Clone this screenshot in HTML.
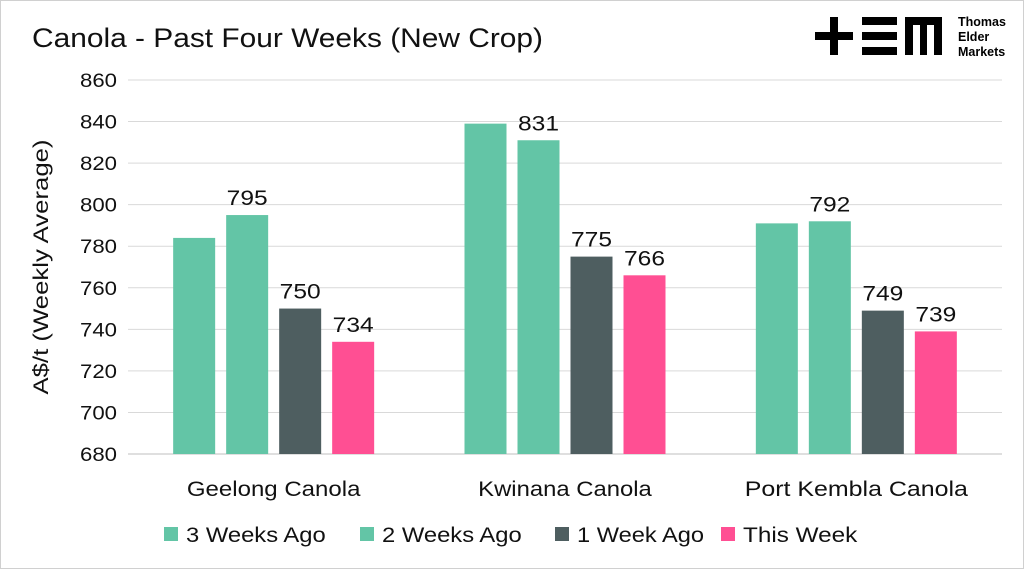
<!DOCTYPE html>
<html><head><meta charset="utf-8"><style>
body{margin:0;background:#fff;}
svg{display:block;font-family:"Liberation Sans",sans-serif;}
</style></head><body>
<svg id="c" width="1024" height="569">
<rect x="0.5" y="0.5" width="1023" height="568" fill="#fff" stroke="#d0d0d0"/>
<text x="32" y="47" font-size="27" textLength="511" lengthAdjust="spacingAndGlyphs" fill="#111">Canola - Past Four Weeks (New Crop)</text>
<g>
<rect x="815" y="32" width="38" height="8" fill="#000"/><rect x="830" y="17" width="8" height="38" fill="#000"/>
<rect x="862" y="17" width="35" height="8" fill="#000"/><rect x="862" y="32" width="35" height="8" fill="#000"/><rect x="862" y="47" width="35" height="8" fill="#000"/>
<path d="M905 17H942V55H934V25H927V55H920V25H913V55H905Z" fill="#000"/>
<text x="958" y="26" font-size="12.5" font-weight="bold" fill="#000">Thomas</text>
<text x="958" y="41" font-size="12.5" font-weight="bold" fill="#000">Elder</text>
<text x="958" y="56" font-size="12.5" font-weight="bold" fill="#000">Markets</text>
</g>
<text transform="translate(48,267) rotate(-90)" text-anchor="middle" font-size="21" textLength="255" lengthAdjust="spacingAndGlyphs" fill="#111">A$/t (Weekly Average)</text>
<g id="grid"></g><g id="bars"></g><g id="legend"></g>
</svg>
<script>
const categories=["Geelong Canola","Kwinana Canola","Port Kembla Canola"];
const seriesNames=["3 Weeks Ago","2 Weeks Ago","1 Week Ago","This Week"];
const s3w=[784,839,791];
const s2w=[795,831,792];
const s1w=[750,775,749];
const sNow=[734,766,739];
const showLabel=[false,true,true,true];
const yTicks=[680,700,720,740,760,780,800,820,840,860];
const colors=["#63c5a6","#63c5a6","#4e5e60","#ff4f93"];
const NS="http://www.w3.org/2000/svg";
const y0=454,y1=80,vmin=680,vmax=860,left=128,right=1002;
const y=v=>y0-(v-vmin)/(vmax-vmin)*(y0-y1);
const gw=(right-left)/categories.length;
const bw=42,gap=11;
function mk(t,a,p){const e=document.createElementNS(NS,t);for(const k in a)e.setAttribute(k,a[k]);p.appendChild(e);return e;}
const grid=document.getElementById('grid');
yTicks.forEach(v=>{
 const l=mk('line',{x1:left,x2:right,y1:y(v),y2:y(v),stroke:v===vmin?'#bfbfbf':'#d9d9d9','stroke-width':1},grid);
 
 
 const t=mk('text',{x:117,y:y(v)+7,'text-anchor':'end','font-size':19,textLength:37,lengthAdjust:'spacingAndGlyphs',fill:'#111'},grid);
 t.textContent=v;
 
 
});
const series=[s3w,s2w,s1w,sNow];
const bars=document.getElementById('bars');
categories.forEach((c,i)=>{
 const cx=left+gw*(i+0.5);
 const start=cx-(4*bw+3*gap)/2;
 series.forEach((s,j)=>{
  const x=start+j*(bw+gap);
  const r=mk('rect',{x:x,y:y(s[i]),width:bw,height:y0-y(s[i]),fill:colors[j]},bars);
  
  
  if(showLabel[j]){
   const t=mk('text',{x:x+bw/2,y:y(s[i])-10,'text-anchor':'middle','font-size':21,textLength:41,lengthAdjust:'spacingAndGlyphs',fill:'#111'},bars);
   t.textContent=s[i];
   
   
  }
 });
 const t=mk('text',{x:cx,y:496,'text-anchor':'middle','font-size':21,textLength:c.length*12.4,lengthAdjust:'spacingAndGlyphs',fill:'#111'},bars);
 t.textContent=c;
 
 
});
const lg=document.getElementById('legend');
const lx=[164,360,555,721];
seriesNames.forEach((n,j)=>{
 const r=mk('rect',{x:lx[j],y:527,width:14,height:14,fill:colors[j]},lg);
 
 
 const t=mk('text',{x:lx[j]+22,y:542,'font-size':21,textLength:n.length*12.7,lengthAdjust:'spacingAndGlyphs',fill:'#111'},lg);
 t.textContent=n;
 
 
});
</script>
</body></html>
